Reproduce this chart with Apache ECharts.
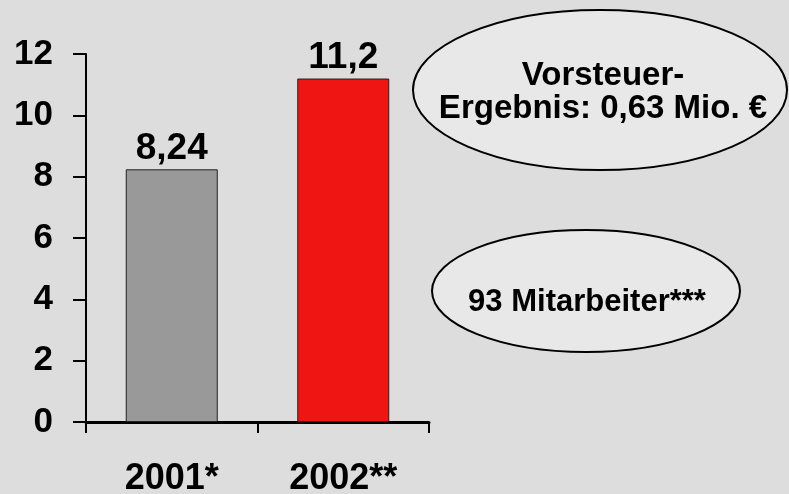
<!DOCTYPE html>
<html>
<head>
<meta charset="utf-8">
<script src="https://cdn.jsdelivr.net/npm/echarts@6/dist/echarts.min.js"></script>
<style>
  html, body { margin: 0; padding: 0; background: #dddddd; }
  #chart { width: 789px; height: 494px; }
</style>
</head>
<body>
<div id="chart"></div>
<script>
// Umsatz je Jahr (Mio. €)
const years = ['2001*', '2002**']
const revenue = [8.24, 11.2]
const barColors = ['#999999', '#ee1512']
const yTicks = { min: 0, max: 12, interval: 2 }
const noteProfit = ['Vorsteuer-', 'Ergebnis: 0,63 Mio. €']
const noteStaff = '93 Mitarbeiter***'

const font = 'Arial, "Liberation Sans", sans-serif'

const myChart = echarts.init(document.getElementById('chart'))

const options = {
  backgroundColor: '#dddddd',
  animation: false,
  grid: {
    left: 86,
    right: 360,
    top: 54,
    bottom: 72,
    outerBoundsMode: 'none'
  },
  xAxis: {
    type: 'category',
    data: years,
    boundaryGap: true,
    axisLine: { show: true, lineStyle: { color: '#000', width: 3 } },
    axisTick: {
      show: true,
      alignWithLabel: false,
      interval: 0,
      length: 11,
      lineStyle: { color: '#000', width: 2 }
    },
    axisLabel: {
      margin: 39,
      color: '#000',
      fontFamily: font,
      fontWeight: 'bold',
      fontSize: 36
    }
  },
  yAxis: {
    type: 'value',
    min: yTicks.min,
    max: yTicks.max,
    interval: yTicks.interval,
    splitLine: { show: false },
    axisLine: { show: true, lineStyle: { color: '#000', width: 2 } },
    axisTick: { show: true, length: 13, lineStyle: { color: '#000', width: 2 } },
    axisLabel: {
      margin: 33,
      color: '#000',
      fontFamily: font,
      fontWeight: 'bold',
      fontSize: 35
    }
  },
  series: [
    {
      type: 'bar',
      barWidth: 92,
      data: revenue.map((v, i) => ({
        value: v,
        itemStyle: { color: barColors[i], borderColor: '#222', borderWidth: 1 }
      })),
      label: {
        show: true,
        position: 'top',
        distance: 2,
        color: '#000',
        fontFamily: font,
        fontWeight: 'bold',
        fontSize: 37,
        formatter: p => String(p.value).replace('.', ',')
      }
    }
  ],
  graphic: [
    {
      type: 'ellipse',
      shape: { cx: 600, cy: 90, rx: 187, ry: 80 },
      style: { fill: '#e8e8e8', stroke: '#000', lineWidth: 2 }
    },
    {
      type: 'text',
      x: 603,
      y: 92,
      style: {
        text: noteProfit.join('\n'),
        align: 'center',
        verticalAlign: 'middle',
        font: 'bold 33px ' + font,
        lineHeight: 33,
        fill: '#000'
      }
    },
    {
      type: 'ellipse',
      shape: { cx: 586, cy: 291, rx: 154, ry: 61 },
      style: { fill: '#e8e8e8', stroke: '#000', lineWidth: 2 }
    },
    {
      type: 'text',
      x: 587,
      y: 302,
      style: {
        text: noteStaff,
        align: 'center',
        verticalAlign: 'middle',
        font: 'bold 31px ' + font,
        fill: '#000'
      }
    }
  ]
}

myChart.setOption(options)
</script>
</body>
</html>
